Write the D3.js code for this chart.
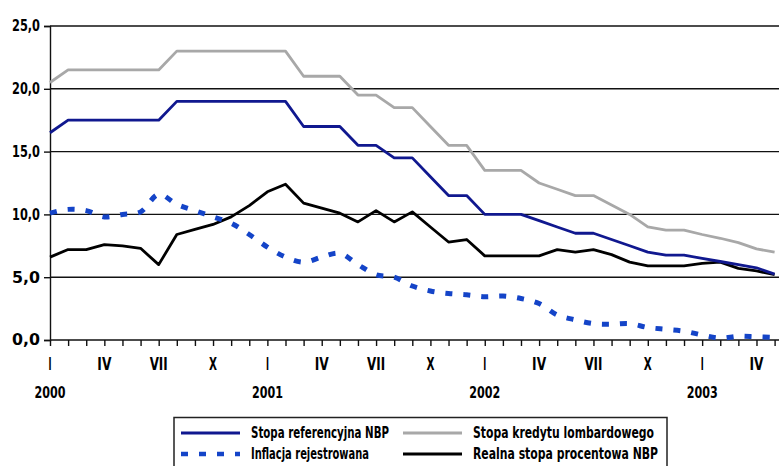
<!DOCTYPE html>
<html><head><meta charset="utf-8">
<script src="https://cdn.jsdelivr.net/npm/d3@7"></script>
<style>
body{margin:0;background:#fff;}
svg text{font-family:"Liberation Sans Narrow","Arial Narrow","DejaVu Sans Condensed","DejaVu Sans",sans-serif;font-weight:bold;fill:#000;}
</style></head>
<body><svg id="c" width="779" height="466"></svg>
<script>
// months Jan 2000 .. May 2003
const monthLabels = ["I","IV","VII","X"];
const yearLabels = ["2000","2001","2002","2003"];
const yTicks = [0,5,10,15,20,25];
const referenceRate = [16.5,17.5,17.5,17.5,17.5,17.5,17.5,19.0,19.0,19.0,19.0,19.0,19.0,19.0,17.0,17.0,17.0,15.5,15.5,14.5,14.5,13.0,11.5,11.5,10.0,10.0,10.0,9.5,9.0,8.5,8.5,8.0,7.5,7.0,6.75,6.75,6.5,6.25,6.0,5.75,5.25];
const lombardRate = [20.5,21.5,21.5,21.5,21.5,21.5,21.5,23.0,23.0,23.0,23.0,23.0,23.0,23.0,21.0,21.0,21.0,19.5,19.5,18.5,18.5,17.0,15.5,15.5,13.5,13.5,13.5,12.5,12.0,11.5,11.5,10.75,10.0,9.0,8.75,8.75,8.4,8.1,7.75,7.25,7.0];
const inflation = [10.1,10.4,10.3,9.8,10.0,10.2,11.6,10.8,10.3,9.8,9.3,8.4,7.4,6.6,6.2,6.6,6.9,6.0,5.2,5.0,4.3,3.9,3.7,3.6,3.45,3.5,3.3,2.9,2.0,1.6,1.3,1.25,1.3,1.0,0.85,0.7,0.4,0.15,0.3,0.25,0.2];
const realRate = [6.6,7.2,7.2,7.6,7.5,7.3,6.0,8.4,8.8,9.2,9.8,10.7,11.8,12.4,10.9,10.5,10.1,9.4,10.3,9.4,10.2,9.0,7.8,8.0,6.7,6.7,6.7,6.7,7.2,7.0,7.2,6.8,6.2,5.9,5.9,5.9,6.1,6.2,5.7,5.5,5.2];
const seriesNames = ["Stopa referencyjna NBP","Stopa kredytu lombardowego","Inflacja rejestrowana","Realna stopa procentowa NBP"];

const svg = d3.select("#c");
const x = d3.scaleLinear().domain([0, 40]).range([50, 774.6]);
const y = d3.scaleLinear().domain([0, 25]).range([340, 26]);

// gridlines
svg.append("g").selectAll("line").data(yTicks.filter(d=>d>0)).join("line")
  .attr("x1", 50).attr("x2", 779).attr("y1", d=>y(d)).attr("y2", d=>y(d))
  .attr("stroke", "#111").attr("stroke-width", 1.4);

// y axis
const ya = svg.append("g").attr("transform","translate(50,0)")
  .call(d3.axisLeft(y).tickValues(yTicks).tickSize(6).tickPadding(4)
    .tickFormat(d=>d3.format(".1f")(d).replace(".",",")));
ya.select(".domain").attr("stroke","#111").attr("stroke-width",1.4);
ya.selectAll(".tick line").attr("stroke","#111").attr("stroke-width",1.4);
ya.selectAll("text").style("font-size","15px").attr("fill","#000")
  .attr("textLength",28).attr("lengthAdjust","spacingAndGlyphs");

// x axis
const monthIdx = d3.range(0, 41);
const xa = svg.append("g").attr("transform","translate(0,340)")
  .call(d3.axisBottom(x).tickValues(monthIdx).tickSize(6).tickFormat(""));
xa.select(".domain").attr("d","M50,0H779").attr("stroke","#111").attr("stroke-width",1.4);
xa.selectAll(".tick line").attr("stroke","#111").attr("stroke-width",1.4);

// month labels
const qIdx = d3.range(0, 41, 3);
const mWidths = {"I":3,"IV":14,"VII":18,"X":8};
svg.append("g").selectAll("text").data(qIdx).join("text")
  .attr("x", d=>x(d)).attr("y", 370).attr("text-anchor","middle")
  .style("font-size","17px")
  .attr("textLength", d=>mWidths[monthLabels[(d/3)%4]]).attr("lengthAdjust","spacingAndGlyphs")
  .text(d=>monthLabels[(d/3)%4]);
// year labels
svg.append("g").selectAll("text").data(yearLabels).join("text")
  .attr("x", (d,i)=>x(i*12)).attr("y", 398).attr("text-anchor","middle")
  .style("font-size","16px").attr("textLength",31).attr("lengthAdjust","spacingAndGlyphs")
  .text(d=>d);

// lines
const line = d3.line().x((d,i)=>x(i)).y(d=>y(d));
const smooth = d3.line().x((d,i)=>x(i)).y(d=>y(d)).curve(d3.curveCatmullRom.alpha(0.5));
const g = svg.append("g");
g.append("path").datum(lombardRate).attr("d", line).attr("fill","none")
  .attr("stroke","#a8a8a8").attr("stroke-width",2.8).attr("stroke-linejoin","round");
g.append("path").datum(realRate).attr("d", line).attr("fill","none")
  .attr("stroke","#000").attr("stroke-width",2.8).attr("stroke-linejoin","round");
g.append("path").datum(referenceRate).attr("d", line).attr("fill","none")
  .attr("stroke","#10188f").attr("stroke-width",2.8).attr("stroke-linejoin","round");
g.append("path").datum(inflation).attr("d", smooth).attr("fill","none")
  .attr("stroke","#1444c8").attr("stroke-width",5).attr("stroke-dasharray","7,11");

// legend
const lg = svg.append("g");
lg.append("rect").attr("x",174).attr("y",417.5).attr("width",493).attr("height",70)
  .attr("fill","#fff").attr("stroke","#222").attr("stroke-width",1.5);
const legendItems = [
  {name: seriesNames[0], color:"#10188f", w:3, dash:null, lx:181, ly:433, tw:138},
  {name: seriesNames[1], color:"#a8a8a8", w:3, dash:null, lx:403, ly:433, tw:181},
  {name: seriesNames[2], color:"#1444c8", w:4.5, dash:"7,11", lx:181, ly:454, tw:118},
  {name: seriesNames[3], color:"#000", w:3, dash:null, lx:403, ly:454, tw:185}
];
legendItems.forEach(it=>{
  lg.append("line").attr("x1",it.lx).attr("x2",it.lx+59).attr("y1",it.ly).attr("y2",it.ly)
    .attr("stroke",it.color).attr("stroke-width",it.w).attr("stroke-dasharray",it.dash);
  lg.append("text").attr("x",it.lx+70).attr("y",it.ly+5).style("font-size","15px")
    .attr("textLength",it.tw).attr("lengthAdjust","spacingAndGlyphs").text(it.name);
});
</script></body></html>
